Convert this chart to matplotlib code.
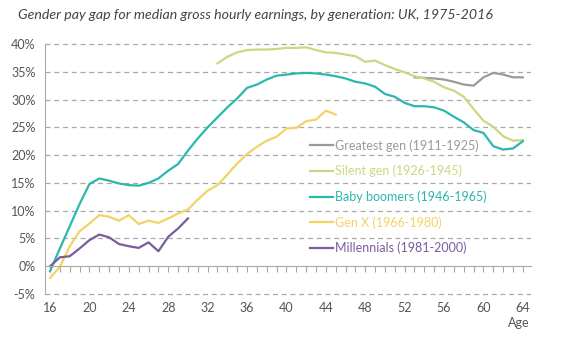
import numpy as np
from matplotlib import pyplot as plt

plt.rcParams['font.family'] = ['Lato', 'DejaVu Sans']

# Gender pay gap (%) by age, one series per generation
ages_greatest = np.arange(53, 65)
greatest = [34.0, 33.9, 33.8, 33.6, 33.2, 32.7, 32.5, 34.0, 34.8, 34.5, 34.0, 34.0]

ages_silent = np.arange(33, 65)
silent = [36.5, 37.7, 38.5, 38.9, 39.0, 39.0, 39.1, 39.3, 39.3, 39.4, 38.9, 38.5,
          38.4, 38.1, 37.8, 36.8, 37.0, 36.2, 35.5, 34.9, 34.2, 33.8, 33.2, 32.2,
          31.6, 30.5, 28.3, 26.2, 25.1, 23.4, 22.6, 22.7]

ages_boomers = np.arange(16, 65)
boomers = [-0.9, 3.2, 7.2, 11.2, 14.8, 15.8, 15.4, 14.9, 14.6, 14.5, 15.0, 15.8,
           17.2, 18.4, 20.8, 23.0, 25.0, 26.8, 28.6, 30.2, 32.1, 32.7, 33.6, 34.3,
           34.5, 34.7, 34.8, 34.7, 34.5, 34.2, 33.8, 33.2, 32.9, 32.3, 31.0, 30.5,
           29.4, 28.8, 28.8, 28.6, 28.0, 26.9, 25.9, 24.5, 24.0, 21.6, 21.0, 21.2,
           22.5]

ages_genx = np.arange(16, 46)
genx = [-2.1, -0.1, 3.6, 6.3, 7.7, 9.2, 8.9, 8.2, 9.2, 7.6, 8.2, 7.8, 8.6, 9.5,
        10.2, 12.0, 13.6, 14.6, 16.5, 18.5, 20.2, 21.5, 22.6, 23.3, 24.8, 24.9,
        26.1, 26.4, 28.0, 27.3]

ages_millennials = np.arange(16, 31)
millennials = [0.0, 1.6, 1.8, 3.2, 4.7, 5.7, 5.2, 4.0, 3.6, 3.3, 4.3, 2.7, 5.3,
               6.8, 8.6]

labels = ['Greatest gen (1911-1925)', 'Silent gen (1926-1945)',
          'Baby boomers (1946-1965)', 'Gen X (1966-1980)',
          'Millennials (1981-2000)']
colors = ['#9a9a9a', '#c9d983', '#2bb7ad', '#f3d266', '#7a5c9c']

yticks = np.arange(-5, 41, 5)
xticks = np.arange(16, 65, 4)

fig = plt.figure(figsize=(5.64, 3.37), dpi=100)
ax = fig.add_axes([0.080, 0.1193, 0.861, 0.7584])

series = [(ages_greatest, greatest), (ages_silent, silent),
          (ages_boomers, boomers), (ages_genx, genx),
          (ages_millennials, millennials)]
for (x, y), lab, c in zip(series, labels, colors):
    ax.plot(x, y, color=c, lw=1.6, label=lab)

ax.set_xlim(15.5, 64.8)
ax.set_ylim(-5.5, 40.5)

# dashed horizontal gridlines, solid axis at zero
for v in yticks:
    if v != 0:
        ax.axhline(v, color='#a8a8a8', lw=0.9, ls=(0, (4, 3)), zorder=0)

for s in ['top', 'right']:
    ax.spines[s].set_visible(False)
ax.spines['left'].set_bounds(-5, 40)
ax.spines['left'].set_color('#a8a8a8')
ax.spines['bottom'].set_position(('data', 0))
ax.spines['bottom'].set_color('#a8a8a8')

ax.set_yticks(yticks)
ax.set_yticklabels([f'{v}%' for v in yticks])
ax.tick_params(axis='y', length=0, pad=7, labelsize=9, labelcolor='#555555')

ax.set_xticks(xticks)
ax.set_xticks(np.arange(16, 65), minor=True)
ax.tick_params(axis='x', which='both', direction='out', length=4,
               color='#a8a8a8', width=0.8)
ax.tick_params(axis='x', which='major', pad=22, labelsize=9,
               labelcolor='#555555')

leg = ax.legend(loc='upper left', bbox_to_anchor=(0.5455, 0.617),
                frameon=False, fontsize=9, handlelength=1.85,
                handletextpad=0.15, labelspacing=1.05, borderpad=0,
                borderaxespad=0, labelcolor='linecolor')

fig.text(18 / 564, 1 - 15 / 337,
         'Gender pay gap for median gross hourly earnings, by generation: UK, 1975-2016',
         fontsize=10.2, style='italic', color='#444444', va='center', ha='left')
fig.text(530 / 564, 1 - 323 / 337, 'Age', fontsize=9, color='#555555',
         ha='right', va='center')

fig.savefig('out.png', dpi=100)
